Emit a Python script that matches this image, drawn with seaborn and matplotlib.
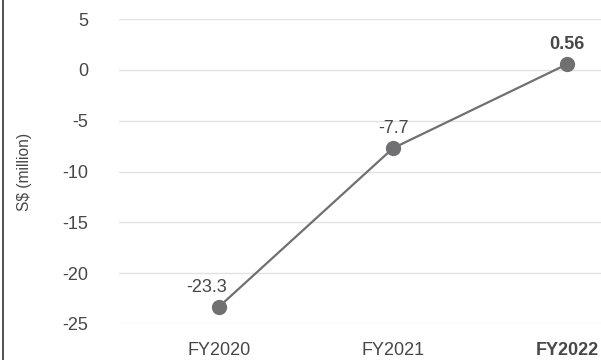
import matplotlib
matplotlib.use("Agg")
import matplotlib.pyplot as plt
from matplotlib.lines import Line2D
import seaborn as sns
import pandas as pd

years = ["FY2020", "FY2021", "FY2022"]
values = [-23.3, -7.7, 0.56]
value_labels = ["-23.3", "-7.7", "0.56"]
y_ticks = [-25, -20, -15, -10, -5, 0, 5]

sns.set_style("white")
plt.rcParams["font.family"] = ["Liberation Sans", "DejaVu Sans"]

df = pd.DataFrame({"year": years, "value": values})

fig = plt.figure(figsize=(6.01, 3.6), dpi=100)
ax = fig.add_axes([0.198, 0.10, 0.802, 0.847])

line_col = "#707073"
sns.lineplot(data=df, x="year", y="value", ax=ax, sort=False,
             color=line_col, linewidth=1.6, marker="o", markersize=11,
             markeredgewidth=0, markerfacecolor=line_col)

ax.set_xlim(-0.575, 2.195)
ax.set_ylim(-25, 5)
ax.set_yticks(y_ticks)
ax.set_yticklabels([str(t) for t in y_ticks])
ax.grid(axis="y", color="#e2e2e2", linewidth=1)
ax.grid(axis="x", visible=False)
ax.set_axisbelow(True)
for s in ax.spines.values():
    s.set_visible(False)

text_col = "#474747"
ax.tick_params(axis="both", length=0, labelsize=13, colors=text_col)
ax.tick_params(axis="y", pad=22)
ax.tick_params(axis="x", pad=13)
for lbl in ax.get_xticklabels():
    if lbl.get_text() == "FY2022":
        lbl.set_fontweight("bold")

ax.set_xlabel("")
ax.set_ylabel("S$ (million)", fontsize=11.2, color=text_col, labelpad=22)

offsets = [(-9, 14), (0, 14), (0, 14)]
for i, (v, lab) in enumerate(zip(values, value_labels)):
    ax.annotate(lab, (i, v), xytext=offsets[i], textcoords="offset points",
                ha="center", va="center", fontsize=13, color=text_col,
                fontweight="bold" if i == 2 else "normal")

fig.add_artist(Line2D([0.0055, 0.0055], [0, 1], transform=fig.transFigure,
                      color="#333333", linewidth=1.2))

fig.savefig("out.png", dpi=100, facecolor="white")
